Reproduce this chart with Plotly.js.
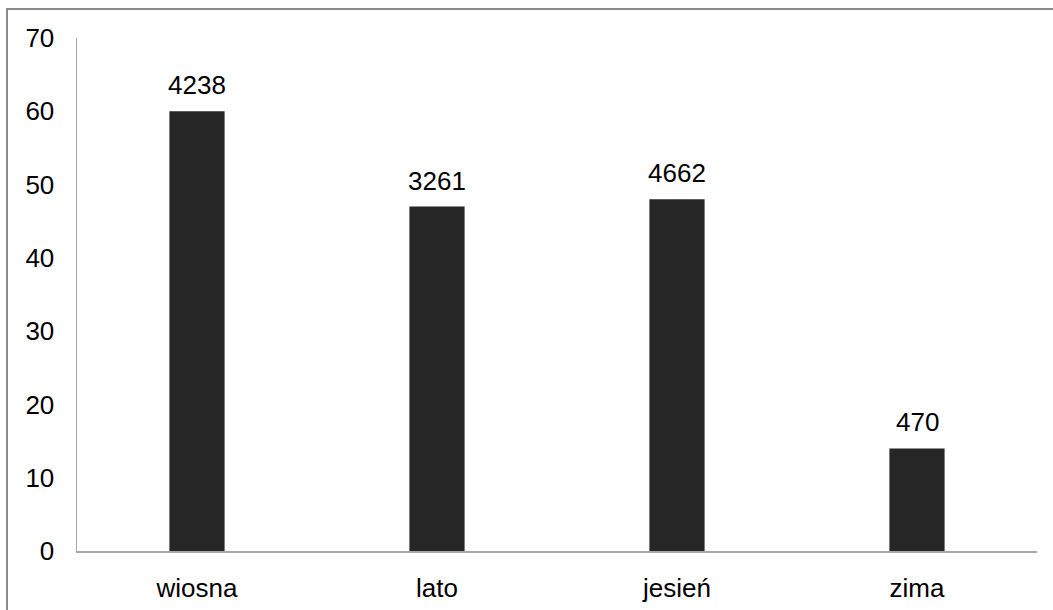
<!DOCTYPE html>
<html>
<head>
<meta charset="utf-8">
<script src="https://cdn.plot.ly/plotly-3.0.1.min.js"></script>
<style>
  html, body { margin: 0; padding: 0; background: #fff; }
  #wrap { position: relative; width: 1053px; height: 610px; overflow: hidden; }
  #chart { position: absolute; left: 0; top: 0; width: 1053px; height: 610px; }
  #frame { position: absolute; left: 6px; top: 8px; width: 1100px; height: 700px;
           border-left: 2px solid #8a8a8a; border-top: 2px solid #8a8a8a; pointer-events: none; }
</style>
</head>
<body>
<div id="wrap">
  <div id="chart"></div>
  <div id="frame"></div>
</div>
<script>
const categories = ["wiosna", "lato", "jesień", "zima"];
const values = [60, 47, 48, 14];
const barLabels = ["4238", "3261", "4662", "470"];
const yTicks = [0, 10, 20, 30, 40, 50, 60, 70];

const font = { family: "Liberation Sans, Arial, sans-serif", size: 26, color: "#000" };

const trace = {
  type: "bar",
  x: categories,
  y: values,
  marker: { color: "#262626", line: { width: 0 } },
  hoverinfo: "skip"
};

const annotations = categories.map((c, i) => ({
  x: c, y: values[i], xref: "x", yref: "y",
  text: barLabels[i], showarrow: false,
  yanchor: "bottom", yshift: 9,
  font: font
}));

const layout = {
  width: 1053, height: 610,
  margin: { l: 77, r: 16, t: 38, b: 59 },
  paper_bgcolor: "rgba(0,0,0,0)",
  plot_bgcolor: "#fff",
  bargap: 0.77,
  showlegend: false,
  font: font,
  xaxis: {
    type: "category",
    showline: true, linecolor: "#a6a6a6", linewidth: 1.5,
    ticks: "", showgrid: false, zeroline: false,
    ticklabelstandoff: 13,
    tickfont: font
  },
  yaxis: {
    range: [0, 70],
    tickvals: yTicks,
    showline: true, linecolor: "#a6a6a6", linewidth: 1.5,
    ticks: "", showgrid: false, zeroline: false,
    ticklabelstandoff: 16,
    tickfont: font
  },
  annotations: annotations
};

Plotly.newPlot("chart", [trace], layout, { staticPlot: true, displayModeBar: false });
</script>
</body>
</html>
